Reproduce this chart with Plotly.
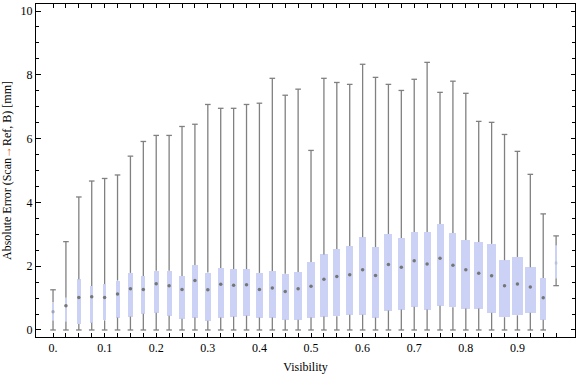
import plotly.graph_objects as go

visibility = [0.0, 0.025, 0.05, 0.075, 0.1, 0.125, 0.15, 0.175, 0.2, 0.225,
              0.25, 0.275, 0.3, 0.325, 0.35, 0.375, 0.4, 0.425, 0.45, 0.475,
              0.5, 0.525, 0.55, 0.575, 0.6, 0.625, 0.65, 0.675, 0.7, 0.725,
              0.75, 0.775, 0.8, 0.825, 0.85, 0.875, 0.9, 0.925, 0.95, 0.975]

err_min = [0.0] * 39 + [1.39]
err_q1 = [0.29, 0.26, 0.19, 0.23, 0.30, 0.39, 0.42, 0.51, 0.54, 0.45,
          0.35, 0.39, 0.29, 0.39, 0.42, 0.45, 0.39, 0.39, 0.32, 0.32,
          0.39, 0.42, 0.43, 0.48, 0.48, 0.39, 0.61, 0.64, 0.73, 0.64,
          0.76, 0.71, 0.67, 0.67, 0.54, 0.40, 0.46, 0.54, 0.32, 1.62]
err_median = [0.57, 0.76, 1.02, 1.04, 1.02, 1.13, 1.29, 1.27, 1.45, 1.39,
              1.27, 1.55, 1.26, 1.43, 1.40, 1.42, 1.27, 1.32, 1.21, 1.29,
              1.37, 1.59, 1.68, 1.73, 1.89, 1.71, 2.05, 1.97, 2.17, 2.07,
              2.25, 2.03, 1.89, 1.78, 1.70, 1.39, 1.44, 1.35, 1.01, 2.10]
err_q3 = [0.86, 1.01, 1.59, 1.38, 1.44, 1.55, 1.79, 1.69, 1.86, 1.86,
          1.69, 2.04, 1.80, 1.94, 1.91, 1.91, 1.79, 1.85, 1.76, 1.82,
          2.13, 2.37, 2.54, 2.63, 2.91, 2.60, 3.01, 2.88, 3.07, 3.07,
          3.32, 3.04, 2.82, 2.76, 2.70, 2.19, 2.29, 1.97, 1.63, 2.66]
err_max = [1.26, 2.77, 4.17, 4.67, 4.75, 4.86, 5.45, 5.91, 6.10, 6.10,
           6.38, 6.45, 7.07, 6.95, 6.95, 7.07, 7.11, 7.89, 7.36, 7.55,
           5.63, 7.89, 7.76, 7.70, 8.33, 7.92, 7.70, 7.51, 7.86, 8.39,
           7.45, 7.80, 7.42, 6.54, 6.51, 6.13, 5.60, 4.88, 3.64, 2.95]
# relative box widths (sample weight), in visibility units
box_width = [0.0020, 0.0040, 0.0068, 0.0064, 0.0060, 0.0078, 0.0084, 0.0084, 0.0097, 0.0097,
             0.0116, 0.0122, 0.0122, 0.0122, 0.0122, 0.0130, 0.0122, 0.0136, 0.0141, 0.0149,
             0.0141, 0.0141, 0.0141, 0.0136, 0.0122, 0.0122, 0.0155, 0.0136, 0.0136, 0.0136,
             0.0136, 0.0136, 0.0180, 0.0174, 0.0174, 0.0213, 0.0213, 0.0213, 0.0110, 0.0008]

x_tickvals = [0.0, 0.1, 0.2, 0.3, 0.4, 0.5, 0.6, 0.7, 0.8, 0.9]
x_ticktext = ["0.", "0.1", "0.2", "0.3", "0.4", "0.5", "0.6", "0.7", "0.8", "0.9"]
y_tickvals = [0, 2, 4, 6, 8, 10]

FONT = "Liberation Serif"
GRAY = "#808080"

fig = go.Figure()

fig.add_trace(go.Bar(
    x=visibility,
    y=[b - a for a, b in zip(err_q1, err_q3)],
    base=err_q1,
    width=box_width,
    marker=dict(color="#CBD2F5", line=dict(width=0)),
    hoverinfo="skip",
))

wx, wy = [], []
for x, lo, q1, q3, hi in zip(visibility, err_min, err_q1, err_q3, err_max):
    wx += [x, x, None, x, x, None]
    wy += [lo, q1, None, q3, hi, None]
fig.add_trace(go.Scatter(x=wx, y=wy, mode="lines",
                         line=dict(color=GRAY, width=1.3), hoverinfo="skip"))

fig.add_trace(go.Scatter(
    x=visibility + visibility, y=err_min + err_max, mode="markers",
    marker=dict(symbol="line-ew", size=4, line=dict(color=GRAY, width=1.3)),
    hoverinfo="skip"))

# median markers fade on very narrow boxes
median_opacity = [min(1.0, w / 0.004) for w in box_width]
fig.add_trace(go.Scatter(
    x=visibility, y=err_median, mode="markers",
    marker=dict(symbol="circle", size=3.5, color="#767676", opacity=median_opacity),
    hoverinfo="skip"))

fig.update_layout(
    width=576, height=377,
    margin=dict(l=36, r=1, t=4, b=40),
    plot_bgcolor="white", paper_bgcolor="white",
    showlegend=False,
    bargap=0,
    font=dict(family=FONT, size=12, color="black"),
    xaxis=dict(
        range=[-0.033, 1.0116],
        tickmode="array", tickvals=x_tickvals, ticktext=x_ticktext,
        ticks="inside", ticklen=4, tickcolor="black", tickwidth=1,
        minor=dict(tickvals=visibility, ticks="inside", ticklen=4, tickcolor="black", tickwidth=1),
        showline=True, linecolor="black", linewidth=1, mirror="allticks",
        showgrid=False, zeroline=False,
        tickfont=dict(family=FONT, size=12, color="black"),
        title=dict(text="Visibility", font=dict(family=FONT, size=12), standoff=8),
    ),
    yaxis=dict(
        range=[-0.22, 10.22],
        tickmode="array", tickvals=y_tickvals,
        ticks="inside", ticklen=4.5, tickcolor="black", tickwidth=1,
        minor=dict(dtick=0.5, tick0=0, ticks="inside", ticklen=2.7, tickcolor="black", tickwidth=1),
        showline=True, linecolor="black", linewidth=1, mirror="allticks",
        showgrid=False, zeroline=False,
        tickfont=dict(family=FONT, size=12, color="black"),
        title=dict(text='Absolute Error (Scan<span style="color:#d9600e">→</span>Ref, B) [mm]',
                   font=dict(family=FONT, size=12), standoff=6),
    ),
)

fig.write_html("out.html", config={"displayModeBar": False},
               post_script="document.body.style.margin='0';document.body.style.padding='0';")
